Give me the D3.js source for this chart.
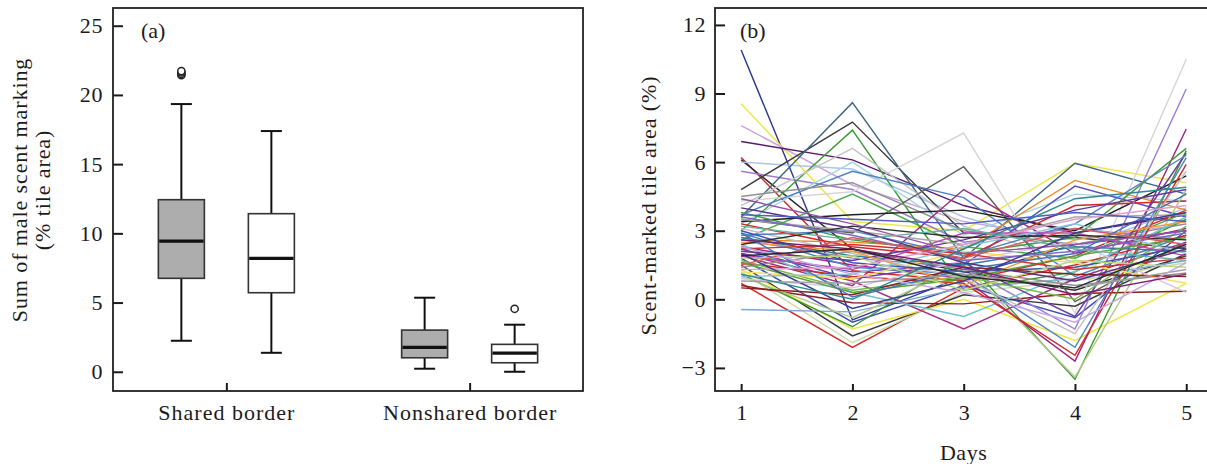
<!DOCTYPE html>
<html>
<head>
<meta charset="utf-8">
<script src="https://cdn.jsdelivr.net/npm/d3@7"></script>
<style>
  body { margin: 0; background: #fff; }
  text { font-family: "Liberation Serif", "Times New Roman", serif; fill: #1d1a1b; }
</style>
</head>
<body>
<svg id="chart" width="1207" height="464"></svg>
<script>
// ---------- Panel (a): box plots of summed scent marking ----------
const groups = ["Shared border", "Nonshared border"];
const boxGroup = ["Shared border", "Shared border", "Nonshared border", "Nonshared border"];
const boxKind = ["filled", "open", "filled", "open"];
const whiskerLow = [2.24, 1.37, 0.22, 0.0];
const quartile1 = [6.75, 5.71, 1.01, 0.65];
const medians = [9.44, 8.19, 1.76, 1.35];
const quartile3 = [12.43, 11.42, 3.01, 1.98];
const whiskerHigh = [19.34, 17.39, 5.35, 3.40];
const outliers = [[21.42, 21.52, 21.62, 21.72], [], [], [4.55]];
const yTicksA = [0, 5, 10, 15, 20, 25];

// ---------- Panel (b): daily scent-marked tile area per male ----------
const days = [1, 2, 3, 4, 5];
const yTicksB = [-3, 0, 3, 6, 9, 12];
const tileSeries = [
  [10.9, -0.9, 1.0, 2.4, 3.0],
  [8.55, 3.4, 3.0, 5.95, 5.1],
  [7.6, 5.0, 3.4, 2.6, 3.3],
  [6.9, 6.1, 4.1, 2.9, 3.7],
  [6.2, 1.25, 0.8, 1.9, 3.9],
  [6.1, 2.2, 1.2, 0.4, 1.9],
  [6.0, 5.7, 3.6, 2.2, 4.0],
  [5.6, 4.8, 2.5, 3.1, 2.6],
  [4.8, 7.75, 2.9, 2.7, 2.2],
  [3.6, 8.6, 1.8, 5.95, 4.6],
  [3.0, 7.4, 0.4, 1.2, 3.5],
  [4.3, 4.7, 7.27, -0.6, 10.5],
  [4.1, 6.6, 3.2, 1.6, 2.4],
  [3.3, 6.0, 2.8, 4.6, 4.3],
  [3.7, 5.6, 4.45, 1.0, 2.8],
  [3.5, 2.9, 5.8, -0.1, 2.5],
  [4.5, 5.1, 3.0, 2.4, 3.3],
  [2.6, 4.6, 2.3, 1.8, 3.8],
  [3.4, 3.7, 3.9, 3.0, 5.4],
  [2.6, 2.5, 2.2, 5.2, 3.9],
  [2.0, 1.2, 1.5, 4.95, 3.6],
  [3.3, 2.3, 1.8, 4.1, 4.3],
  [0.7, -2.1, 0.5, 1.5, 2.8],
  [1.2, -1.9, 0.3, 0.8, 1.6],
  [1.5, -1.6, 0.2, -0.3, 2.0],
  [1.3, -1.3, 0.0, -1.8, 0.7],
  [1.8, -1.0, 0.6, -0.8, 3.0],
  [-0.45, -0.55, 0.5, 0.9, 1.7],
  [0.6, -0.15, -0.2, 0.25, 0.35],
  [1.1, -1.2, 1.8, -3.5, 6.5],
  [1.0, -0.8, 1.5, -3.4, 4.8],
  [2.3, 1.5, 0.9, -2.7, 7.45],
  [2.6, 1.8, 1.4, -1.3, 9.2],
  [1.9, 0.6, 4.8, 2.0, 3.1],
  [2.0, 0.8, -1.3, 0.9, 2.5],
  [2.4, 0.3, -0.75, 1.2, 3.6],
  [1.6, 1.0, 0.7, -2.45, 5.9],
  [2.9, 1.4, 1.1, -2.1, 6.2],
  [3.1, 2.0, 0.9, -1.5, 5.6],
  [2.2, 0.9, 1.6, -0.75, 6.4],
  [1.7, 0.4, 1.0, 0.0, 3.2],
  [3.8, 2.6, 2.0, 2.7, 6.6],
  [2.8, 3.0, 1.9, 3.3, 6.3],
  [2.1, 1.7, 2.6, 3.9, 4.8],
  [3.5, 3.0, 2.4, 3.6, 3.7],
  [1.4, 2.1, 1.3, 0.6, 1.15],
  [0.9, 0.5, 1.7, 2.5, 0.3],
  [1.2, 0.9, 2.1, 1.6, 0.7],
  [0.5, 0.2, 1.4, 1.1, 1.0],
  [2.7, 1.9, 1.5, 2.3, 2.1],
  [1.9, 1.3, 2.9, 2.9, 1.9],
  [2.5, 2.1, 0.6, 2.6, 3.4],
  [3.0, 1.6, 1.2, 1.4, 2.3],
  [1.6, 0.3, 0.9, 1.9, 2.7],
  [2.2, 2.4, 2.0, 1.3, 1.8],
  [3.6, 2.8, 1.7, 2.1, 2.9],
  [1.0, 1.1, 2.3, 3.3, 2.0],
  [2.4, 3.2, 2.7, 2.8, 2.6],
  [1.8, 1.9, 0.4, 1.7, 1.4],
  [4.4, 3.3, 2.0, 2.4, 3.0],
  [4.0, 3.1, 1.6, 0.8, 2.2],
  [2.9, 0.1, 1.3, 2.0, 4.6],
  [1.3, 1.4, 2.4, 3.5, 4.1],
  [3.2, 2.6, 3.1, 2.2, 1.7],
  [2.0, -0.4, 0.8, 2.9, 3.8],
  [0.8, 0.7, 1.1, 0.5, 1.3],
  [1.5, 2.7, 1.8, 3.1, 2.4],
  [3.7, 3.5, 3.3, 3.8, 3.4],
  [2.3, 1.1, 0.3, -1.0, 1.6],
  [1.1, 0.0, 2.2, 4.4, 4.9],
  [2.6, 2.2, 1.4, 0.2, 1.1],
  [1.9, 2.2, 1.0, 0.5, 2.4]
];
const seriesColors = [
  "#2d3a92", "#efe64a", "#c9a3db", "#5b1a6e", "#d1282a", "#2e2e2e", "#a9c5e8", "#9f7ccb",
  "#3b3b3b", "#3e6584", "#3c9b33", "#d6d6d6", "#c4c4c4", "#a8d6df", "#4e82c4", "#5f5f5f",
  "#8f8f8f", "#4ea84e", "#1f1f1f", "#e8891f", "#5a4fbf", "#d3262b", "#d42a25", "#c8dcab",
  "#3a3a3a", "#f0e640", "#3e4fb3", "#7fa6d4", "#8c1d1d", "#3c9a30", "#b6c98a", "#a1237f",
  "#9a80d2", "#9c2c86", "#a4318a", "#6fc3c9", "#d22a2a", "#4f86c6", "#c0c0c0", "#6b3fa0",
  "#78b84e", "#3e9a3a", "#5580c0", "#60399a", "#a7a7a7", "#8f8f8f", "#d7c6e6", "#efe060",
  "#8a1f1f", "#2e7d9a", "#bb4db0", "#ef9b3b", "#3b54a8", "#5d9e3d", "#cc3333", "#7f68c4",
  "#90c5d6", "#2f2f2f", "#b9d97b", "#9254a8", "#5a2e80", "#4471b8", "#e0a0c8", "#6ab0a8",
  "#3d3d8f", "#a0a0a0", "#d65c5c", "#4c5cc4", "#c6a6e0", "#2b8a8a", "#7a1f6b", "#2a2a2a"
];

const svg = d3.select("#chart");
const ink = "#1d1a1b";
const fontSize = 22;

// ===== Panel (a) =====
const A = { left: 113, right: 583, top: 8, bottom: 391 };
const xA = d3.scalePoint().domain(groups).range([A.left, A.right]).padding(0.466);
const yA = d3.scaleLinear().domain([-1.39, 26.28]).range([A.bottom, A.top]);
const gA = svg.append("g");

gA.append("g")
  .attr("transform", `translate(${A.left},0)`)
  .call(d3.axisLeft(yA).tickValues(yTicksA).tickSize(-10).tickPadding(10))
  .call(g => g.select(".domain").remove())
  .call(g => g.selectAll(".tick line").attr("stroke", ink).attr("stroke-width", 2))
  .call(g => g.selectAll(".tick text").attr("font-size", fontSize).style("letter-spacing", "0.6px")
    .attr("font-family", "Liberation Serif, serif").attr("fill", ink));

gA.append("g")
  .attr("transform", `translate(0,${A.bottom})`)
  .call(d3.axisBottom(xA).tickSize(-8).tickPadding(13))
  .call(g => g.select(".domain").remove())
  .call(g => g.selectAll(".tick line").attr("stroke", ink).attr("stroke-width", 2))
  .call(g => g.selectAll(".tick text").attr("font-size", fontSize).style("letter-spacing", "1px")
    .attr("font-family", "Liberation Serif, serif").attr("fill", ink));

const boxW = 46, capW = 21, offset = 45;
const boxes = boxGroup.map((grp, i) => ({
  cx: xA(grp) + (boxKind[i] === "filled" ? -offset : offset),
  kind: boxKind[i], lo: whiskerLow[i], q1: quartile1[i], med: medians[i],
  q3: quartile3[i], hi: whiskerHigh[i], out: outliers[i]
}));

const bx = gA.selectAll("g.box").data(boxes).join("g").attr("class", "box");
bx.append("line")
  .attr("x1", d => d.cx).attr("x2", d => d.cx)
  .attr("y1", d => yA(d.q3)).attr("y2", d => yA(d.hi))
  .attr("stroke", "#111").attr("stroke-width", 2);
bx.append("line")
  .attr("x1", d => d.cx).attr("x2", d => d.cx)
  .attr("y1", d => yA(d.q1)).attr("y2", d => yA(d.lo))
  .attr("stroke", "#111").attr("stroke-width", 2);
bx.selectAll("line.cap").data(d => [[d.cx, d.hi], [d.cx, d.lo]]).join("line")
  .attr("class", "cap")
  .attr("x1", d => d[0] - capW / 2).attr("x2", d => d[0] + capW / 2)
  .attr("y1", d => yA(d[1])).attr("y2", d => yA(d[1]))
  .attr("stroke", "#111").attr("stroke-width", 2);
bx.append("rect")
  .attr("x", d => d.cx - boxW / 2).attr("width", boxW)
  .attr("y", d => yA(d.q3)).attr("height", d => yA(d.q1) - yA(d.q3))
  .attr("fill", d => d.kind === "filled" ? "#adadad" : "#fff")
  .attr("stroke", "#333").attr("stroke-width", 1.6);
bx.append("line")
  .attr("x1", d => d.cx - boxW / 2 + 0.8).attr("x2", d => d.cx + boxW / 2 - 0.8)
  .attr("y1", d => yA(d.med)).attr("y2", d => yA(d.med))
  .attr("stroke", "#111").attr("stroke-width", 3.2);
bx.selectAll("circle").data(d => d.out.map(v => [d.cx, v])).join("circle")
  .attr("cx", d => d[0]).attr("cy", d => yA(d[1])).attr("r", 3.6)
  .attr("fill", "#fff").attr("stroke", "#222").attr("stroke-width", 1.5);

gA.append("rect")
  .attr("x", A.left).attr("y", A.top)
  .attr("width", A.right - A.left).attr("height", A.bottom - A.top)
  .attr("fill", "none").attr("stroke", "#222").attr("stroke-width", 1.8);

gA.append("text").attr("x", 141).attr("y", 38).attr("font-size", fontSize).text("(a)");

const yLabA = gA.append("text")
  .attr("transform", "translate(0,190) rotate(-90)")
  .attr("text-anchor", "middle").attr("font-size", fontSize).style("letter-spacing", "0.9px");
yLabA.append("tspan").attr("x", 0).attr("y", 27).text("Sum of male scent marking");
yLabA.append("tspan").attr("x", 0).attr("y", 50).text("(% tile area)");

// ===== Panel (b) =====
const B = { left: 715, right: 1208.5, top: 8, bottom: 391 };
const xB = d3.scaleLinear().domain([0.765, 5.2]).range([B.left, B.right]);
const yB = d3.scaleLinear().domain([-4.01, 12.74]).range([B.bottom, B.top]);
const gB = svg.append("g");

gB.append("g")
  .attr("transform", `translate(${B.left},0)`)
  .call(d3.axisLeft(yB).tickValues(yTicksB).tickSize(-10).tickPadding(9)
    .tickFormat(d => d < 0 ? "\u2212" + Math.abs(d) : String(d)))
  .call(g => g.select(".domain").remove())
  .call(g => g.selectAll(".tick line").attr("stroke", ink).attr("stroke-width", 2))
  .call(g => g.selectAll(".tick text").attr("font-size", fontSize).style("letter-spacing", "0.6px")
    .attr("font-family", "Liberation Serif, serif").attr("fill", ink));

gB.append("g")
  .attr("transform", `translate(0,${B.bottom})`)
  .call(d3.axisBottom(xB).tickValues(days).tickSize(-7).tickPadding(13).tickFormat(d3.format("d")))
  .call(g => g.select(".domain").remove())
  .call(g => g.selectAll(".tick line").attr("stroke", ink).attr("stroke-width", 2))
  .call(g => g.selectAll(".tick text").attr("font-size", fontSize)
    .attr("font-family", "Liberation Serif, serif").attr("fill", ink));

const line = d3.line().x((d, i) => xB(days[i])).y(d => yB(d));
gB.append("g").selectAll("path").data(tileSeries).join("path")
  .attr("d", line)
  .attr("fill", "none")
  .attr("stroke", (d, i) => seriesColors[i % seriesColors.length])
  .attr("stroke-width", 1.45)
  .attr("stroke-linejoin", "miter");

gB.append("rect")
  .attr("x", B.left).attr("y", B.top)
  .attr("width", B.right - B.left).attr("height", B.bottom - B.top)
  .attr("fill", "none").attr("stroke", "#222").attr("stroke-width", 1.8);

gB.append("text").attr("x", 740).attr("y", 38).attr("font-size", fontSize).text("(b)");

gB.append("text")
  .attr("transform", "translate(656,205.5) rotate(-90)")
  .attr("text-anchor", "middle").attr("font-size", fontSize).style("letter-spacing", "0.9px")
  .text("Scent-marked tile area (%)");

gB.append("text")
  .attr("x", xB(3)).attr("y", 460)
  .attr("text-anchor", "middle").attr("font-size", fontSize).style("letter-spacing", "0.6px")
  .text("Days");
</script>
</body>
</html>
